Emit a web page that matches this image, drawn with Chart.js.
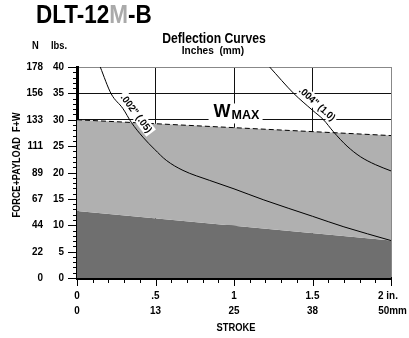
<!DOCTYPE html>
<html>
<head>
<meta charset="utf-8">
<script src="https://cdn.jsdelivr.net/npm/chart.js@4"></script>
<style>
  html, body { margin: 0; padding: 0; background: #fff; }
  #wrap { width: 409px; height: 338px; position: relative; }
</style>
</head>
<body>
<div id="wrap"><canvas id="myChart" width="409" height="338"></canvas></div>
<script>
const FONT = '"Liberation Sans", Arial, sans-serif';

// stroke axis (inches) and its labels
const strokeTicks = [0, 0.5, 1, 1.5, 2];
const strokeInLabels = ["0", ".5", "1", "1.5", "2 in."];
const strokeMmLabels = ["0", "13", "25", "38", "50mm"];

// force axis (lbs) and newton labels
const forceTicks = [0, 5, 10, 15, 20, 25, 30, 35, 40];
const forceLbsLabels = ["0", "5", "10", "15", "20", "25", "30", "35", "40"];
const forceNLabels = ["0", "22", "44", "67", "89", "111", "133", "156", "178"];

// W max line and lower dark band
const wmaxX = [0, 2];
const wmaxY = [30, 27];
const bandX = [0, 2];
const bandY = [12.7, 7.1];

// deflection curves
const defl002X = [0.148, 0.218, 0.293, 0.346, 0.42, 0.494, 0.569, 0.675, 0.845, 1.0, 1.19, 1.5, 1.7, 2.0];
const defl002Y = [40, 34.9, 32.1, 29.5, 26.7, 24.4, 22.3, 20.4, 18.5, 16.9, 14.8, 11.7, 9.7, 7.1];
const defl004X = [1.227, 1.38, 1.5, 1.57, 1.634, 1.72, 1.805, 1.9, 2.0];
const defl004Y = [40, 35, 31.8, 30, 27.7, 25, 23, 21.5, 20.3];

const pts = (xs, ys) => xs.map((x, i) => ({ x, y: ys[i] }));

// condensed-looking text: squeeze horizontally
const text = (ctx, str, x, y, size, align, sx = 0.85, color = "#000") => {
  ctx.save();
  ctx.font = `bold ${size}px ${FONT}`;
  ctx.fillStyle = color;
  ctx.textBaseline = "middle";
  ctx.textAlign = align;
  ctx.translate(x, y);
  ctx.scale(sx, 1);
  ctx.fillText(str, 0, 0);
  const w = ctx.measureText(str).width * sx;
  ctx.restore();
  return w;
};

const labelBox = (ctx, str, cx, cy, angle) => {
  ctx.save();
  ctx.translate(cx, cy);
  ctx.rotate(angle * Math.PI / 180);
  ctx.font = `bold 10px ${FONT}`;
  const w = ctx.measureText(str).width * 0.95;
  ctx.fillStyle = "#fff";
  ctx.fillRect(-w / 2 - 2, -6, w + 4, 12);
  text(ctx, str, 0, 0.5, 10, "center", 0.95);
  ctx.restore();
};

const decor = {
  id: "decor",
  afterDraw(chart) {
    const { ctx, scales: { x, y } } = chart;
    const left = x.left, bottom = y.bottom;
    ctx.save();
    ctx.strokeStyle = "#000";
    ctx.lineWidth = 1;

    // y ticks
    for (let v = 0; v <= 40; v++) {
      const py = Math.round(y.getPixelForValue(v)) + 0.5;
      const len = v % 5 === 0 ? 9 : 4;
      ctx.beginPath();
      ctx.moveTo(left - len, py);
      ctx.lineTo(left, py);
      ctx.stroke();
    }
    // x ticks
    for (let i = 0; i <= 20; i++) {
      const px = Math.round(x.getPixelForValue(i / 10)) + 0.5;
      const len = i % 5 === 0 ? 8 : 5;
      ctx.beginPath();
      ctx.moveTo(px, bottom);
      ctx.lineTo(px, bottom + len);
      ctx.stroke();
    }

    // y labels, two columns
    forceTicks.forEach((v, i) => {
      const py = y.getPixelForValue(v);
      text(ctx, forceNLabels[i], 43, py, 11, "right", 0.9);
      text(ctx, forceLbsLabels[i], 64, py, 11, "right", 0.9);
    });
    text(ctx, "N", 35.5, 46, 11, "center");
    text(ctx, "lbs.", 59, 46, 11, "center");

    // x labels, two rows
    const last = strokeTicks.length - 1;
    strokeTicks.forEach((v, i) => {
      const px = x.getPixelForValue(v);
      text(ctx, strokeInLabels[i], px + (i === last ? -3 : 0), bottom + 18, 11, "center", 0.9);
      text(ctx, strokeMmLabels[i], px + (i === last ? 1.5 : 0), bottom + 33, 11, "center", 0.9);
    });
    text(ctx, "STROKE", x.getPixelForValue(1) + 2, bottom + 50, 11, "center");

    // rotated y title
    ctx.save();
    ctx.translate(17, 165);
    ctx.rotate(-Math.PI / 2);
    text(ctx, "FORCE+PAYLOAD  F+W", 0, 0, 11, "center", 0.83);
    ctx.restore();

    // headings
    text(ctx, "Deflection Curves", 214, 39, 14, "center", 0.87);
    text(ctx, "Inches  (mm)", 213, 51, 11, "center", 0.92);

    // big title with grey M
    let tx = 36;
    [["DLT-12", "#000"], ["M", "#aaa"], ["-B", "#000"]].forEach(([t, c]) => {
      tx += text(ctx, t, tx, 16, 25, "left", 0.9, c);
    });

    // W MAX label
    const wx = x.getPixelForValue(1.01), wy = y.getPixelForValue(31);
    ctx.fillStyle = "#fff";
    ctx.fillRect(wx - 27, wy - 11, 54, 20);
    text(ctx, "W", wx - 22, wy - 2, 18, "left", 1);
    text(ctx, "MAX", wx - 4, wy + 1.5, 12.5, "left", 1);

    // curve labels
    labelBox(ctx, '.002" (.05)', x.getPixelForValue(0.378), y.getPixelForValue(31.2), 53);
    labelBox(ctx, '.004" (1.0)', x.getPixelForValue(1.53), y.getPixelForValue(33), 42);
    ctx.restore();
  },
};

const ctx = document.getElementById("myChart").getContext("2d");
const myChart = new Chart(ctx, {
  type: "line",
  data: {
    datasets: [
      {
        data: pts(defl002X, defl002Y),
        borderColor: "#000",
        borderWidth: 1,
        pointRadius: 0,
        cubicInterpolationMode: "monotone",
        fill: false,
      },
      {
        data: pts(defl004X, defl004Y),
        borderColor: "#000",
        borderWidth: 1,
        pointRadius: 0,
        cubicInterpolationMode: "monotone",
        fill: false,
      },
      {
        data: pts(wmaxX, wmaxY),
        borderColor: "#000",
        borderWidth: 1,
        borderDash: [5, 3],
        pointRadius: 0,
        backgroundColor: "#b0b0b0",
        fill: 3,
      },
      {
        data: pts(bandX, bandY),
        borderWidth: 0,
        borderColor: "rgba(0,0,0,0)",
        pointRadius: 0,
        backgroundColor: "#6f6f6f",
        fill: "origin",
      },
    ],
  },
  options: {
    responsive: false,
    animation: false,
    layout: { padding: { left: 77, right: 18, top: 67, bottom: 60 } },
    plugins: { legend: { display: false }, tooltip: { enabled: false } },
    scales: {
      x: {
        type: "linear",
        min: 0,
        max: 2,
        z: 1,
        ticks: { display: false, stepSize: 0.5 },
        grid: {
          drawTicks: false,
          color: (c) => (c.tick && c.tick.value === 2 ? "#888" : "#111"),
          lineWidth: 1,
        },
        border: { display: true, color: "#000", width: 3 },
      },
      y: {
        type: "linear",
        min: 0,
        max: 40,
        z: 1,
        ticks: { display: false, stepSize: 5 },
        grid: {
          drawTicks: false,
          color: (c) => (c.tick && c.tick.value === 40 ? "#888" : "#111"),
          lineWidth: 1,
        },
        border: { display: true, color: "#000", width: 3 },
      },
    },
  },
  plugins: [decor],
});
</script>
</body>
</html>
